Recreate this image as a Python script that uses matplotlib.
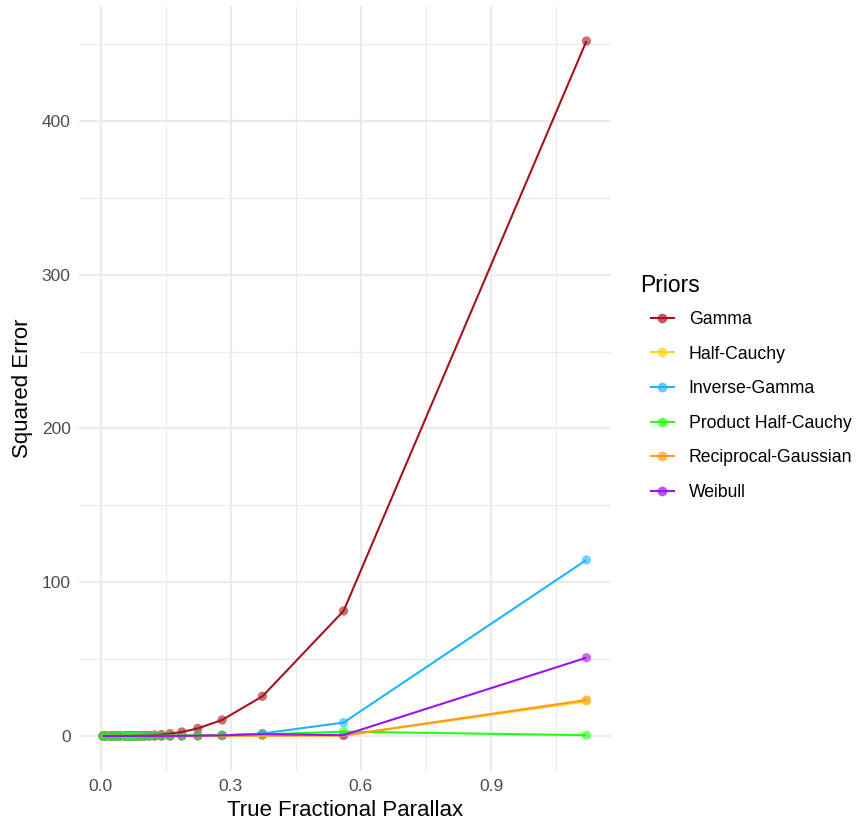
import numpy as np
import matplotlib
matplotlib.use("Agg")
import matplotlib.pyplot as plt
from matplotlib.lines import Line2D

matplotlib.rcParams["font.family"] = ["Liberation Sans", "DejaVu Sans"]

# true fractional parallax of each simulated star
parallax = [1.12, 0.56, 0.373, 0.28, 0.224, 0.187, 0.16, 0.14, 0.124, 0.112,
            0.102, 0.0933, 0.0862, 0.08, 0.0747, 0.07, 0.0659, 0.0622, 0.0589, 0.056,
            0.0448, 0.0373, 0.028, 0.0224, 0.0112, 0.0056]

# squared error per prior
gamma = [452.0, 81.3, 25.8, 10.4, 4.9, 2.6, 1.5, 0.9, 0.55, 0.35,
         0.25, 0.18, 0.13, 0.1, 0.08, 0.06, 0.05, 0.04, 0.03, 0.025,
         0.01, 0.005, 0.002, 0.001, 0.0, 0.0]
half_cauchy = [22.5, 0.3, 0.2, 0.1, 0.05, 0.03, 0.02, 0.01, 0.01, 0.0,
               0.0, 0.0, 0.0, 0.0, 0.0, 0.0, 0.0, 0.0, 0.0, 0.0,
               0.0, 0.0, 0.0, 0.0, 0.0, 0.0]
inverse_gamma = [114.5, 8.7, 1.6, 0.4, 0.15, 0.08, 0.05, 0.03, 0.02, 0.01,
                 0.01, 0.0, 0.0, 0.0, 0.0, 0.0, 0.0, 0.0, 0.0, 0.0,
                 0.0, 0.0, 0.0, 0.0, 0.0, 0.0]
product_half_cauchy = [0.5, 2.8, 1.0, 0.5, 0.3, 0.2, 0.1, 0.08, 0.05, 0.04,
                       0.03, 0.02, 0.02, 0.01, 0.01, 0.01, 0.0, 0.0, 0.0, 0.0,
                       0.0, 0.0, 0.0, 0.0, 0.0, 0.0]
reciprocal_gaussian = [23.4, 0.3, 0.2, 0.1, 0.05, 0.03, 0.02, 0.01, 0.01, 0.0,
                       0.0, 0.0, 0.0, 0.0, 0.0, 0.0, 0.0, 0.0, 0.0, 0.0,
                       0.0, 0.0, 0.0, 0.0, 0.0, 0.0]
weibull = [50.9, 0.5, 1.2, 0.4, 0.2, 0.1, 0.05, 0.03, 0.02, 0.01,
           0.0, 0.0, 0.0, 0.0, 0.0, 0.0, 0.0, 0.0, 0.0, 0.0,
           0.0, 0.0, 0.0, 0.0, 0.0, 0.0]

priors = ['Gamma', 'Half-Cauchy', 'Inverse-Gamma', 'Product Half-Cauchy',
          'Reciprocal-Gaussian', 'Weibull']
series = {'Gamma': gamma, 'Half-Cauchy': half_cauchy, 'Inverse-Gamma': inverse_gamma,
          'Product Half-Cauchy': product_half_cauchy,
          'Reciprocal-Gaussian': reciprocal_gaussian, 'Weibull': weibull}
colors = {'Gamma': '#A3141E', 'Half-Cauchy': '#FFD21A', 'Inverse-Gamma': '#1EB4FF',
          'Product Half-Cauchy': '#22FF11', 'Reciprocal-Gaussian': '#FF9A1A',
          'Weibull': '#9A14F0'}
# point drawing order (green sits on top of the pile near zero)
point_order = ['Gamma', 'Half-Cauchy', 'Inverse-Gamma', 'Reciprocal-Gaussian',
               'Weibull', 'Product Half-Cauchy']

fig = plt.figure(figsize=(8.58, 8.22), dpi=100)
ax = fig.add_axes([0.092, 0.0624, 0.6197, 0.93])

x = np.array(parallax)
xr = x.max() - x.min()
ax.set_xlim(x.min() - 0.05 * xr, x.max() + 0.05 * xr)
ymax = max(gamma)
ax.set_ylim(-0.05 * ymax, ymax * 1.05)

# theme_minimal style grid
for v in [0.15, 0.45, 0.75, 1.05]:
    ax.axvline(v, color='#EBEBEB', lw=0.8, zorder=0)
for v in [50, 150, 250, 350, 450]:
    ax.axhline(v, color='#EBEBEB', lw=0.8, zorder=0)
for v in [0.0, 0.3, 0.6, 0.9]:
    ax.axvline(v, color='#EBEBEB', lw=1.6, zorder=0)
for v in [0, 100, 200, 300, 400]:
    ax.axhline(v, color='#EBEBEB', lw=1.6, zorder=0)

for p in point_order:
    ax.scatter(parallax, series[p], s=45, color=colors[p], alpha=0.6,
               edgecolors='none', zorder=2, clip_on=False)
for p in priors:
    ax.plot(parallax, series[p], color=colors[p], lw=1.5, zorder=3,
            solid_capstyle='butt')

ax.set_xticks([0.0, 0.3, 0.6, 0.9])
ax.set_xticklabels(['0.0', '0.3', '0.6', '0.9'])
ax.set_yticks([0, 100, 200, 300, 400])
for s in ax.spines.values():
    s.set_visible(False)
ax.tick_params(length=0, labelsize=12.5, labelcolor='#4D4D4D', pad=6)
ax.set_xlabel('True Fractional Parallax', fontsize=16, labelpad=4)
ax.set_ylabel('Squared Error', fontsize=16, labelpad=6)

# legend: title placed on its own so it sits left of the keys
fig.text(0.746, 1 - 285 / 822, 'Priors', fontsize=16.5, va='center', ha='left')
handles = [Line2D([0], [0], color=colors[p], lw=1.5, marker='o', markersize=7,
                  markerfacecolor=matplotlib.colors.to_rgba(colors[p], 0.7),
                  markeredgecolor='none', label=p) for p in priors]
leg = fig.legend(handles=handles, loc='center left',
                 bbox_to_anchor=(0.74, 1 - 406 / 822), frameon=False, fontsize=12.7,
                 handlelength=1.3, handletextpad=0.85, labelspacing=1.0)

fig.savefig('out.png', dpi=100)
